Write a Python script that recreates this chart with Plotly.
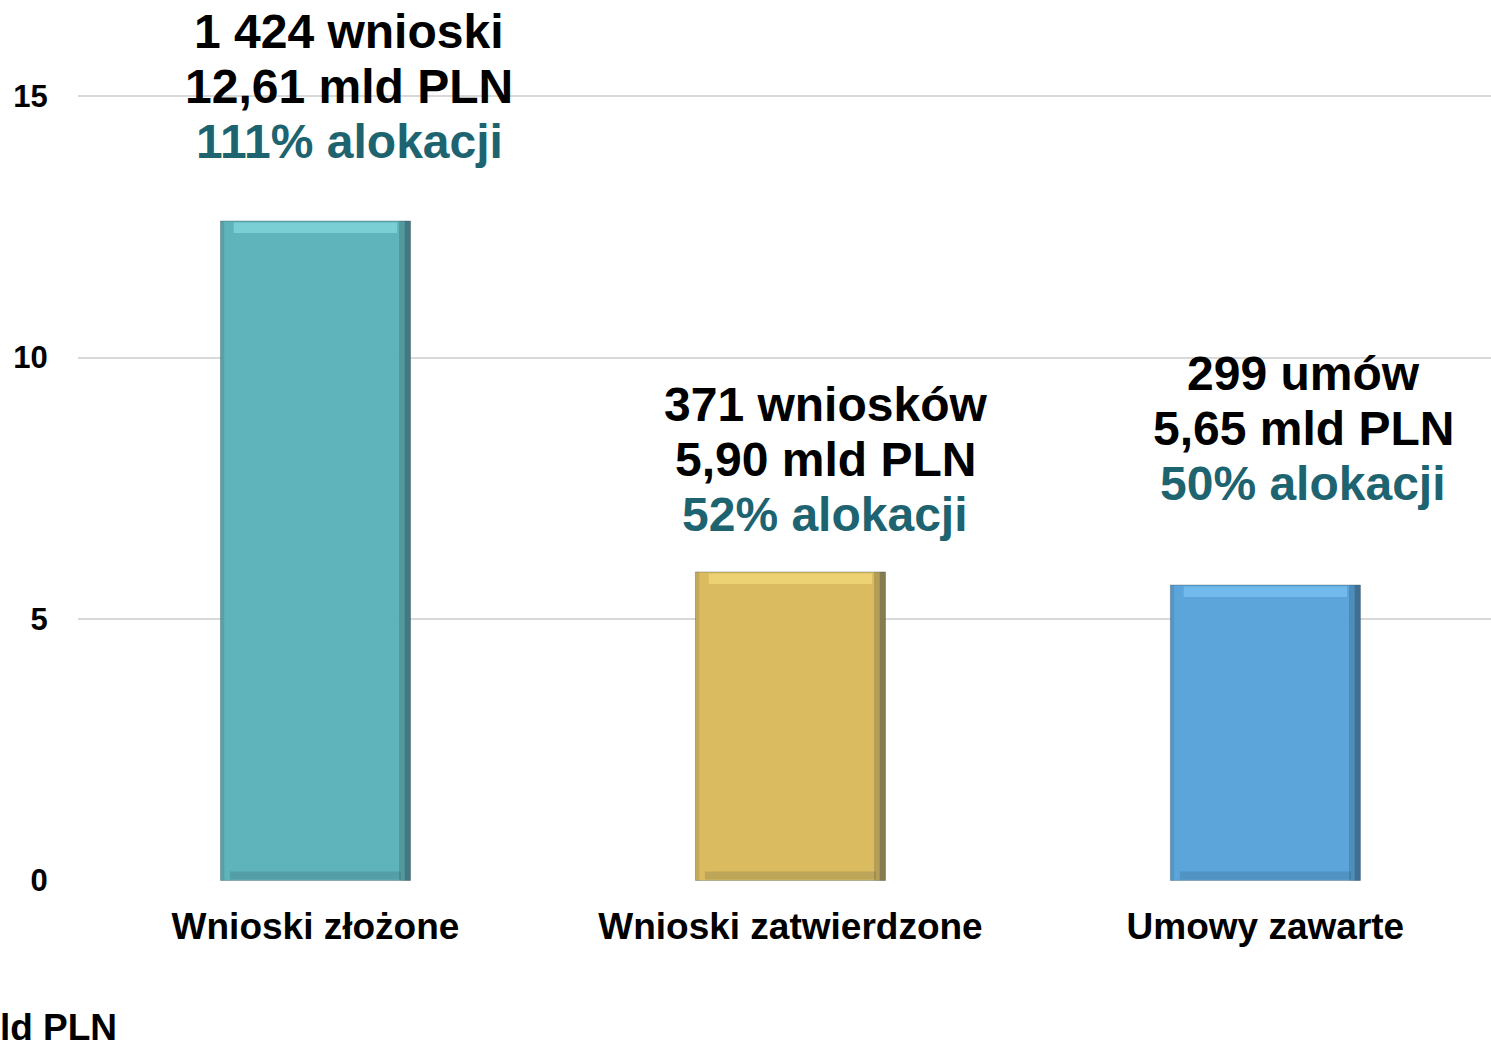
import plotly.graph_objects as go

# ---- data ----
categories = ["Wnioski złożone", "Wnioski zatwierdzone", "Umowy zawarte"]
values_mld = [12.61, 5.90, 5.65]
count_labels = ["1 424 wnioski", "371 wniosków", "299 umów"]
amount_labels = ["12,61 mld PLN", "5,90 mld PLN", "5,65 mld PLN"]
alloc_labels = ["111% alokacji", "52% alokacji", "50% alokacji"]
y_ticks = [0, 5, 10, 15]
y_unit = "mld PLN"

# ---- style ----
bar_colors = ["rgba(88,176,183,0.96)", "rgba(216,184,88,0.96)", "rgba(84,161,218,0.96)"]
top_colors = ["rgba(140,225,232,0.6)", "rgba(250,225,130,0.6)", "rgba(130,200,245,0.6)"]
teal_text = "#1D6470"
FONT = "Arial, Liberation Sans, sans-serif"
BAR_W = 0.4
label_xshift = [34, 35, 38]
label_gap = [80, 57, 102]  # px between bar top and centre of last label line
line_step = 55
top_band = 0.2      # data units of the light bevel band
bottom_band = 0.15

fig = go.Figure()
# main bars
fig.add_trace(go.Bar(
    x=categories, y=values_mld, width=BAR_W, offset=-BAR_W / 2,
    marker=dict(color=bar_colors, line=dict(color="rgba(60,80,90,0.35)", width=1)),
    hoverinfo="skip", showlegend=False,
))
# top bevel highlight
fig.add_trace(go.Bar(
    x=categories, y=[top_band] * len(values_mld),
    base=[v - top_band - 0.03 for v in values_mld],
    width=BAR_W * 0.86, offset=-BAR_W * 0.43,
    marker=dict(color=top_colors, line=dict(width=0)),
    hoverinfo="skip", showlegend=False,
))
# bottom bevel shadow
fig.add_trace(go.Bar(
    x=categories, y=[bottom_band] * len(values_mld), base=[0.02] * len(values_mld),
    width=BAR_W * 0.9, offset=-BAR_W * 0.45,
    marker=dict(color="rgba(30,50,60,0.15)", line=dict(width=0)),
    hoverinfo="skip", showlegend=False,
))
# right edge shadow (two layers for a gradient look)
fig.add_trace(go.Bar(
    x=categories, y=values_mld, width=BAR_W * 0.06, offset=BAR_W * 0.44,
    marker=dict(color="rgba(30,45,55,0.2)", line=dict(width=0)),
    hoverinfo="skip", showlegend=False,
))
fig.add_trace(go.Bar(
    x=categories, y=values_mld, width=BAR_W * 0.03, offset=BAR_W * 0.47,
    marker=dict(color="rgba(30,45,55,0.3)", line=dict(width=0)),
    hoverinfo="skip", showlegend=False,
))
# left edge subtle shadow
fig.add_trace(go.Bar(
    x=categories, y=values_mld, width=BAR_W * 0.02, offset=-BAR_W * 0.5,
    marker=dict(color="rgba(30,45,55,0.12)", line=dict(width=0)),
    hoverinfo="skip", showlegend=False,
))

for i, cat in enumerate(categories):
    lines = [(count_labels[i], "black"), (amount_labels[i], "black"), (alloc_labels[i], teal_text)]
    for j, (txt, col) in enumerate(lines):
        fig.add_annotation(
            x=cat, y=values_mld[i], xref="x", yref="y",
            text=txt, showarrow=False,
            font=dict(family=FONT, size=48, color=col, weight="bold"),
            xanchor="center", yanchor="middle",
            xshift=label_xshift[i],
            yshift=label_gap[i] + (2 - j) * line_step,
        )

fig.add_annotation(
    x=0, y=0, xref="paper", yref="paper",
    text=y_unit, showarrow=False,
    font=dict(family=FONT, size=37, color="black", weight="bold"),
    xanchor="left", yanchor="middle", xshift=-113, yshift=-146,
)

fig.update_layout(
    width=1491, height=1045,
    margin=dict(l=78, r=0, t=95, b=164),
    paper_bgcolor="white", plot_bgcolor="white",
    barmode="overlay",
    font=dict(family=FONT, color="black"),
)
fig.update_xaxes(
    range=[-0.5, 2.475], automargin=False,
    showline=False, showgrid=False, zeroline=False,
    ticks="outside", ticklen=13, tickcolor="rgba(0,0,0,0)",
    tickfont=dict(family=FONT, size=37, color="black", weight="bold"),
)
fig.update_yaxes(
    range=[-0.01, 15.02], tickvals=y_ticks, automargin=False,
    showgrid=True, gridcolor="#D9D9D9", gridwidth=2,
    zeroline=False, showline=False,
    ticks="outside", ticklen=23, tickcolor="rgba(0,0,0,0)",
    tickfont=dict(family=FONT, size=31, color="black", weight="bold"),
)

fig.write_html(
    "out.html",
    config={"displayModeBar": False},
    post_script="document.body.style.margin='0';document.body.style.padding='0';",
)
